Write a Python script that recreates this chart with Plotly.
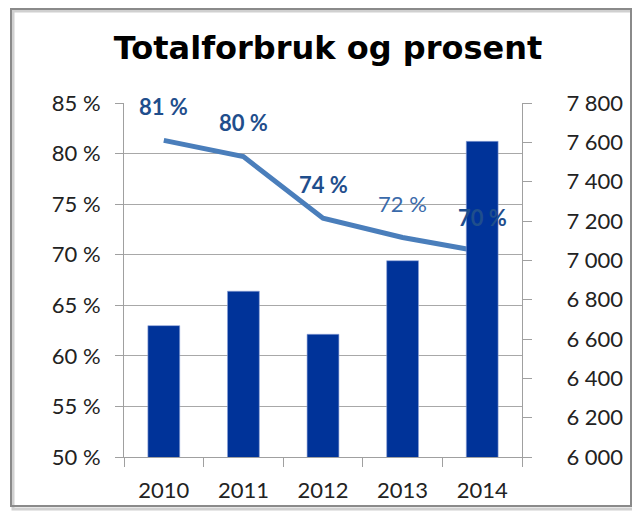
import plotly.graph_objects as go

years = ["2010", "2011", "2012", "2013", "2014"]
forbruk = [6668, 6843, 6624, 6998, 7605]
prosent = [81.3, 79.7, 73.6, 71.7, 70.3]
prosent_labels = ["81 %", "80 %", "74 %", "72 %", "70 %"]
label_bold = [True, True, True, False, True]

fig = go.Figure()

fig.add_trace(go.Bar(
    x=years, y=forbruk, yaxis="y2",
    marker=dict(color="#003399", line=dict(color="#8fa3d8", width=0.6)),
    width=0.4, showlegend=False,
))
fig.add_trace(go.Scatter(
    x=years, y=prosent, yaxis="y", mode="lines",
    line=dict(color="#4A7EBB", width=5), showlegend=False,
))

for i, (p, lab, b) in enumerate(zip(prosent, prosent_labels, label_bold)):
    fig.add_annotation(
        x=i, y=p, xref="x", yref="y", text=(f"<b>{lab}</b>" if b else lab),
        showarrow=False, yshift=34,
        font=dict(family="Lato", size=22, color="#1F4E8C" if b else "#3A6AAA"),
    )

# chart frame
fig.add_shape(type="rect", xref="paper", yref="paper",
              x0=(13 - 124) / 398, x1=(634 - 124) / 398,
              y0=(457 - 509) / 354, y1=(457 - 11) / 354,
              line=dict(color="#d0d0d0", width=3), layer="below")
fig.add_shape(type="rect", xref="paper", yref="paper",
              x0=(11 - 124) / 398, x1=(631 - 124) / 398,
              y0=(457 - 506) / 354, y1=(457 - 9) / 354,
              line=dict(color="#8a8a8a", width=2), layer="below")

fig.update_layout(
    width=632, height=505,
    margin=dict(l=116, r=118, t=95, b=56, autoexpand=False),
    paper_bgcolor="white", plot_bgcolor="white",
    separators=", ",
    font=dict(family="Lato", size=22, color="#222222"),
    title=dict(text="<b>Totalforbruk og prosent</b>", x=320 / 632, xanchor="center",
               y=1 - 40 / 505, yanchor="middle",
               font=dict(family="DejaVu Sans", size=32, color="#000000")),
    xaxis=dict(type="category", range=[-0.5, 4.5], showgrid=False, showline=True,
               linecolor="#a0a0a0", automargin=False,
               linewidth=1, ticks="outside", tickson="boundaries", ticklen=9,
               tickcolor="#a0a0a0", tickfont=dict(size=22, color="#222222"),
               tickangle=0, ticklabelstandoff=14),
    yaxis=dict(range=[50, 85], dtick=5, ticksuffix=" %", showgrid=True, automargin=False,
               gridcolor="#a8a8a8", gridwidth=1, showline=True, linecolor="#a0a0a0",
               ticks="outside", ticklen=8, tickcolor="#a0a0a0", zeroline=False,
               ticklabelstandoff=10, tickfont=dict(size=22, color="#222222")),
    yaxis2=dict(range=[6000, 7800], dtick=200, tickformat=",d", overlaying="y",
                side="right", showgrid=False, showline=True, linecolor="#a0a0a0",
                automargin=False,
                ticks="outside", ticklen=9, tickcolor="#a0a0a0", zeroline=False,
                ticklabelstandoff=30, tickfont=dict(size=22, color="#222222")),
)

fig.write_html("out.html")
